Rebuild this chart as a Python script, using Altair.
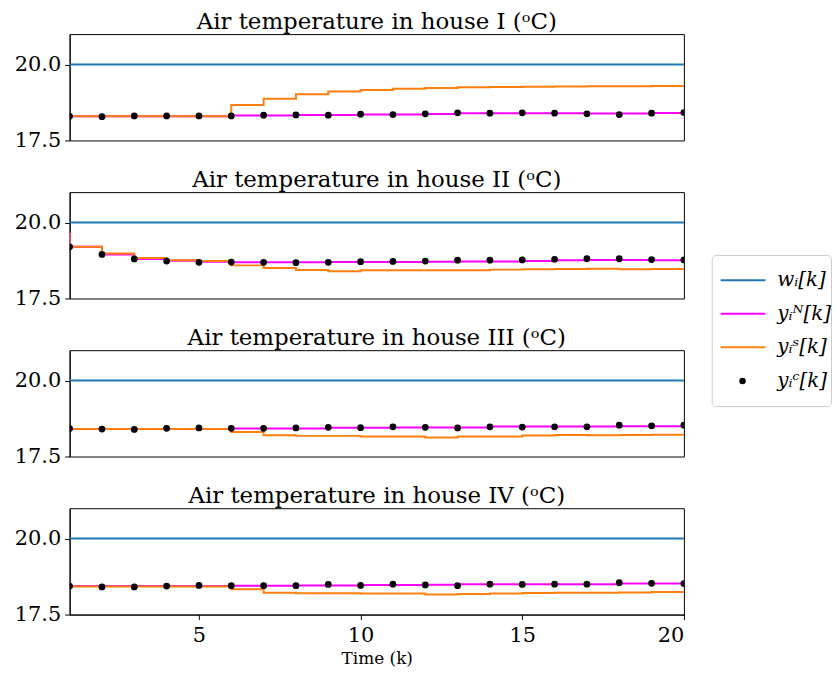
import altair as alt
import pandas as pd

# ---------------- data ----------------
houses = ["I", "II", "III", "IV"]
series = ["wᵢ[k]", "yᵢᴺ[k]", "yᵢˢ[k]", "yᵢᶜ[k]"]
colors = ["#1f77b4", "#ff00ff", "#ff7f0e", "#000000"]

k_line = list(range(0, 21))   # step lines (k = 0 ... 20)
k_dots = list(range(1, 21))   # centralized samples (k = 1 ... 20)

setpoint = [20.0, 20.0, 20.0, 20.0]

yN_I = [18.30, 18.30, 18.30, 18.30, 18.30, 18.30, 18.318, 18.318, 18.335, 18.335, 18.355,
        18.355, 18.37, 18.398, 18.398, 18.398, 18.398, 18.39, 18.39, 18.40, 18.41]
yS_I = [18.30, 18.30, 18.30, 18.30, 18.30, 18.30, 18.67, 18.875, 19.02, 19.11, 19.16,
        19.20, 19.23, 19.25, 19.26, 19.27, 19.275, 19.28, 19.285, 19.29, 19.30]
yC_I = [18.295, 18.284, 18.307, 18.307, 18.307, 18.307, 18.33, 18.341, 18.33, 18.364,
        18.352, 18.375, 18.409, 18.398, 18.409, 18.398, 18.375, 18.352, 18.398, 18.42]

yN_II = [19.63, 19.20, 18.95, 18.80, 18.74, 18.71, 18.69, 18.69, 18.69, 18.70, 18.70,
         18.70, 18.71, 18.72, 18.72, 18.73, 18.76, 18.77, 18.77, 18.76, 18.76]
yS_II = [19.63, 19.20, 18.98, 18.83, 18.76, 18.73, 18.59, 18.50, 18.44, 18.40, 18.43,
         18.43, 18.43, 18.43, 18.45, 18.46, 18.47, 18.48, 18.46, 18.47, 18.48]
yC_II = [19.20, 18.95, 18.80, 18.73, 18.69, 18.70, 18.69, 18.68, 18.69, 18.71,
         18.72, 18.73, 18.76, 18.76, 18.77, 18.79, 18.81, 18.81, 18.78, 18.77]

yN_III = [18.41, 18.41, 18.41, 18.41, 18.41, 18.41, 18.425, 18.425, 18.425, 18.445, 18.445,
          18.455, 18.455, 18.455, 18.485, 18.485, 18.485, 18.485, 18.495, 18.495, 18.495]
yS_III = [18.41, 18.41, 18.41, 18.41, 18.41, 18.41, 18.31, 18.20, 18.18, 18.18, 18.16,
          18.16, 18.13, 18.16, 18.16, 18.19, 18.21, 18.20, 18.21, 18.22, 18.24]
yC_III = [18.42, 18.405, 18.39, 18.43, 18.44, 18.43, 18.43, 18.44, 18.46, 18.45,
          18.48, 18.46, 18.44, 18.48, 18.47, 18.48, 18.48, 18.53, 18.51, 18.53]

yN_IV = [18.44, 18.44, 18.44, 18.44, 18.44, 18.44, 18.45, 18.45, 18.46, 18.46, 18.47,
         18.47, 18.48, 18.50, 18.50, 18.50, 18.50, 18.50, 18.52, 18.52, 18.52]
yS_IV = [18.42, 18.42, 18.42, 18.42, 18.42, 18.42, 18.33, 18.22, 18.20, 18.20, 18.19,
         18.19, 18.16, 18.18, 18.19, 18.21, 18.22, 18.22, 18.23, 18.24, 18.25]
yC_IV = [18.44, 18.41, 18.41, 18.44, 18.46, 18.45, 18.45, 18.45, 18.49, 18.46,
         18.50, 18.475, 18.45, 18.50, 18.49, 18.50, 18.50, 18.55, 18.53, 18.52]

yN_all = [yN_I, yN_II, yN_III, yN_IV]
yS_all = [yS_I, yS_II, yS_III, yS_IV]
yC_all = [yC_I, yC_II, yC_III, yC_IV]

rows = []
for h, w, yn, ys, yc in zip(houses, setpoint, yN_all, yS_all, yC_all):
    for k in k_line:
        rows.append({"house": h, "k": k, "value": w, "series": series[0]})
    for k, v in zip(k_line, yn):
        rows.append({"house": h, "k": k, "value": v, "series": series[1]})
    for k, v in zip(k_line, ys):
        rows.append({"house": h, "k": k, "value": v, "series": series[2]})
    for k, v in zip(k_dots, yc):
        rows.append({"house": h, "k": k, "value": v, "series": series[3]})
df = pd.DataFrame(rows)
legend_df = pd.DataFrame({"series": series, "idx": list(range(len(series)))})

FONT = "DejaVu Serif"
color = alt.Color("series:N", scale=alt.Scale(domain=series, range=colors), legend=None)


def panel(i, h):
    base = alt.Chart(df).transform_filter(alt.datum.house == h)
    last = i == len(houses) - 1
    if last:
        xaxis = alt.Axis(values=[5, 10, 15, 20], title="Time (k)", titleFont=FONT,
                         titleFontSize=17, titleFontWeight="normal", titlePadding=5,
                         labelFont=FONT, labelFontSize=21, labelPadding=5, grid=False)
    else:
        xaxis = None
    x = alt.X("k:Q", scale=alt.Scale(domain=[1, 20], nice=False, zero=False), axis=xaxis)
    y = alt.Y("value:Q", scale=alt.Scale(domain=[17.5, 21], nice=False, zero=False),
              axis=alt.Axis(values=[17.5, 20.0], format=".1f", title=None, grid=False,
                            labelFont=FONT, labelFontSize=21, minExtent=61, labelPadding=4))
    layers = []
    for s in series[:3]:
        layers.append(
            base.transform_filter(alt.datum.series == s)
            .mark_line(interpolate="step-after", clip=True, strokeWidth=2)
            .encode(x=x, y=y, color=color)
        )
    layers.append(
        base.transform_filter(alt.datum.series == series[3])
        .mark_point(filled=True, size=46, opacity=1, clip=True)
        .encode(x=x, y=y, color=color)
    )
    return alt.layer(*layers).properties(
        width=618, height=107,
        view=alt.ViewBackground(stroke="black", strokeWidth=1),
        title=alt.TitleParams(f"Air temperature in house {h} (ᵒC)", font=FONT, fontSize=23,
                              fontWeight="normal", color="black", offset=0, anchor="middle"),
    )


# ---------------- legend (drawn as a small chart) ----------------
lbase = alt.Chart(legend_df)
ly = alt.Y("series:N", scale=alt.Scale(domain=series, padding=0.5), axis=None)
leg_lines = lbase.transform_filter(alt.datum.idx < 3).mark_rule(strokeWidth=2).encode(
    y=ly, x=alt.value(9), x2=alt.value(54), color=color)
leg_dot = lbase.transform_filter(alt.datum.idx == 3).mark_point(
    filled=True, size=42, opacity=1).encode(y=ly, x=alt.value(31), color=color)
leg_text = lbase.mark_text(align="left", baseline="middle", font=FONT, fontSize=20,
                           fontStyle="italic", color="black").encode(
    y=ly, x=alt.value(66), text="series:N")
legend_chart = alt.layer(leg_lines, leg_dot, leg_text).properties(
    width=120, height=152,
    view=alt.ViewBackground(stroke="#cccccc", strokeWidth=1, cornerRadius=4),
)
# invisible spacer below the legend box, so that the centred legend sits a little higher
spacer = lbase.mark_point(opacity=0).encode(
    x=alt.value(0), y=alt.value(0)
).properties(width=120, height=20, view=alt.ViewBackground(stroke=None))
legend_col = alt.vconcat(legend_chart, spacer, spacing=16)

panels = alt.vconcat(*[panel(i, h) for i, h in enumerate(houses)], spacing=17)

chart = alt.hconcat(panels, legend_col, spacing=24, center=True).properties(
    padding={"left": 0, "top": 0, "right": 0, "bottom": 0}
).configure_axis(
    domainColor="black", tickColor="black", labelColor="black", titleColor="black", tickSize=5
)

chart.save("out.html", embed_options={"renderer": "svg", "actions": False})
